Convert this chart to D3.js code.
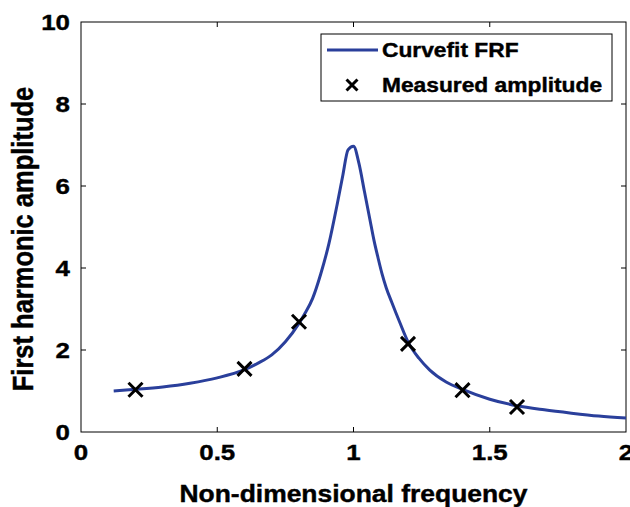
<!DOCTYPE html>
<html>
<head>
<meta charset="utf-8">
<script src="https://cdn.jsdelivr.net/npm/d3@7"></script>
<style>
  body { margin: 0; background: #fff; }
  svg { font-family: "Liberation Sans", Arial, sans-serif; font-weight: bold; }
  text { fill: #000; stroke: #000; stroke-width: 0.4; }
</style>
</head>
<body>
<svg id="chart" width="630" height="507"></svg>
<script>
// curve fit FRF
const fitFreq = [0.12, 0.2, 0.3, 0.4, 0.5, 0.6, 0.65, 0.7, 0.75, 0.8, 0.82, 0.85, 0.88, 0.91, 0.94, 0.96, 0.98, 1.0,
                 1.02, 1.04, 1.06, 1.075, 1.09, 1.105, 1.12, 1.14, 1.17, 1.2, 1.24, 1.28, 1.34, 1.4, 1.5, 1.6, 1.7, 1.8, 1.9, 2.0];
const fitAmp = [1.0, 1.04, 1.1, 1.19, 1.32, 1.52, 1.68, 1.88, 2.2, 2.65, 2.87, 3.26, 3.86, 4.6, 5.55, 6.23, 6.88, 6.97,
                6.55, 5.87, 5.19, 4.68, 4.25, 3.85, 3.52, 3.17, 2.67, 2.2, 1.8, 1.51, 1.22, 1.04, 0.8, 0.64, 0.54, 0.46, 0.39, 0.34];

// measured points
const measFreq = [0.2, 0.6, 0.8, 1.2, 1.4, 1.6];
const measAmp = [1.03, 1.54, 2.69, 2.15, 1.02, 0.61];

const xTicks = [0, 0.5, 1, 1.5, 2];
const yTicks = [0, 2, 4, 6, 8, 10];
const legendLabels = ["Curvefit FRF", "Measured amplitude"];

const svg = d3.select("#chart");
const margin = {left: 81, right: 4, top: 22, bottom: 75};
const width = 630 - margin.left - margin.right;
const height = 507 - margin.top - margin.bottom;
const lineColor = "#2a3f9b";
const stretch = 1.15;   // text in the picture is a bit wide

const x = d3.scaleLinear().domain([0, 2]).range([0, width]);
const y = d3.scaleLinear().domain([0, 10]).range([height, 0]);

const g = svg.append("g").attr("transform", `translate(${margin.left},${margin.top})`);

// box with inward ticks on all sides
g.append("rect")
    .attr("width", width).attr("height", height)
    .attr("fill", "none").attr("stroke", "#000").attr("stroke-width", 1);

const tickLen = 5;
[height, 0].forEach(function(y0) {
    g.append("g").selectAll("line").data(xTicks.slice(1, -1)).enter().append("line")
        .attr("x1", d => x(d)).attr("x2", d => x(d))
        .attr("y1", y0).attr("y2", y0 === 0 ? tickLen : y0 - tickLen)
        .attr("stroke", "#000");
});
[0, width].forEach(function(x0) {
    g.append("g").selectAll("line").data(yTicks.slice(1, -1)).enter().append("line")
        .attr("x1", x0).attr("x2", x0 === 0 ? tickLen : x0 - tickLen)
        .attr("y1", d => y(d)).attr("y2", d => y(d))
        .attr("stroke", "#000");
});

// tick labels
g.append("g").selectAll("text").data(xTicks).enter().append("text")
    .attr("transform", d => `translate(${x(d)},${height + 28}) scale(${stretch},1)`)
    .attr("text-anchor", "middle")
    .attr("font-size", 22.5)
    .text(d => d);
g.append("g").selectAll("text").data(yTicks).enter().append("text")
    .attr("transform", d => `translate(-11,${y(d)}) scale(${stretch},1)`)
    .attr("dy", "0.36em")
    .attr("text-anchor", "end")
    .attr("font-size", 22.5)
    .text(d => d);

// axis titles
svg.append("text")
    .attr("transform", `translate(${margin.left + x(1)},502) scale(${stretch},1)`)
    .attr("text-anchor", "middle").attr("font-size", 23)
    .text("Non-dimensional frequency");
svg.append("text")
    .attr("transform", `translate(33,${margin.top + height / 2 + 12}) rotate(-90) scale(1,${stretch})`)
    .attr("text-anchor", "middle").attr("font-size", 25.5)
    .text("First harmonic amplitude");

// fit curve
const line = d3.line()
    .x((d, i) => x(fitFreq[i]))
    .y(d => y(d))
    .curve(d3.curveMonotoneX);
g.append("path")
    .datum(fitAmp)
    .attr("d", line)
    .attr("fill", "none")
    .attr("stroke", lineColor)
    .attr("stroke-width", 3)
    .attr("stroke-linejoin", "round");

// measured markers
const cross = d3.symbol().type(d3.symbolTimes).size(130);
g.append("g").selectAll("path").data(measAmp).enter().append("path")
    .attr("transform", (d, i) => `translate(${x(measFreq[i])},${y(d)})`)
    .attr("d", cross)
    .attr("fill", "none")
    .attr("stroke", "#000")
    .attr("stroke-width", 3);

// legend
const lg = svg.append("g").attr("transform", "translate(321,34)");
lg.append("rect")
    .attr("width", 291).attr("height", 67)
    .attr("fill", "#fff").attr("stroke", "#000").attr("stroke-width", 1);
lg.append("line")
    .attr("x1", 6).attr("x2", 57).attr("y1", 16).attr("y2", 16)
    .attr("stroke", lineColor).attr("stroke-width", 3);
lg.append("path")
    .attr("transform", "translate(31,51)")
    .attr("d", d3.symbol().type(d3.symbolTimes).size(80))
    .attr("fill", "none").attr("stroke", "#000").attr("stroke-width", 3);
lg.selectAll("text.leg").data(legendLabels).enter().append("text")
    .attr("class", "leg")
    .attr("transform", (d, i) => `translate(61,${16 + i * 35}) scale(${stretch},1)`)
    .attr("dy", "0.36em")
    .attr("font-size", 19.8)
    .text(d => d);
</script>
</body>
</html>
